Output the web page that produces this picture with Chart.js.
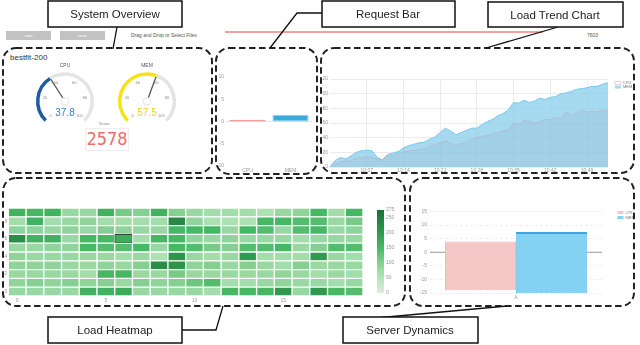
<!DOCTYPE html>
<html>
<head>
<meta charset="utf-8">
<script src="https://cdn.jsdelivr.net/npm/chart.js@4.4.1/dist/chart.umd.min.js"></script>
<style>
  body { margin: 0; background: #fff; font-family: "Liberation Sans", Arial, sans-serif; }
  #page { position: relative; width: 640px; height: 345px; overflow: hidden; }
  canvas { position: absolute; }
  .txt { position: absolute; white-space: nowrap; }
  .btn { position: absolute; top: 31px; width: 45px; height: 9px; background: #c2c2c2; color: #fff; font-size: 4px; line-height: 9px; text-align: center; }
  svg { position: absolute; left: 0; top: 0; pointer-events: none; }
</style>
</head>
<body>
<div id="page">
  <div class="btn" style="left:6px">start</div>
  <div class="btn" style="left:60px">reset</div>
  <div class="txt" style="left:131px;top:32px;font-size:5px;color:#555">Drag and Drop or Select Files</div>
  <div class="txt" style="left:587px;top:32px;font-size:5px;color:#555">7603</div>
  <div class="txt" style="left:10px;top:53px;font-size:8px;color:#333">bestfit-200</div>
  <div class="txt" style="left:99px;top:121px;font-size:4px;color:#888">Score</div>
  <div class="txt" id="score" style="left:85px;top:128px;width:42px;height:21px;border:1px solid #eee;text-align:center;line-height:21px;font-family:'DejaVu Sans Mono',monospace;font-size:17px;color:#f26a6a"></div>

  <canvas id="cpuGauge" width="90" height="70" style="left:20px;top:56px"></canvas>
  <canvas id="memGauge" width="90" height="70" style="left:102px;top:56px"></canvas>
  <canvas id="reqChart" width="100" height="104" style="left:217px;top:70px"></canvas>
  <canvas id="trendChart" width="314" height="101" style="left:322px;top:72px"></canvas>
  <canvas id="heatChart" width="366" height="106" style="left:0px;top:200px"></canvas>
  <canvas id="barScale" width="30" height="95" style="left:372px;top:205px"></canvas>
  <canvas id="srvChart" width="222" height="97" style="left:412px;top:204px"></canvas>

  <svg width="640" height="345">
    <line x1="225" y1="32" x2="543" y2="32" stroke="#e8453c" stroke-width="1"/>
    <g fill="none" stroke="#222" stroke-width="2" stroke-dasharray="6.5 3.5">
      <rect x="3" y="48" width="209" height="125" rx="13"/>
      <rect x="216" y="48" width="101" height="126" rx="13"/>
      <rect x="321" y="48" width="313" height="125" rx="13"/>
      <rect x="3" y="178" width="402" height="128" rx="13"/>
      <rect x="410" y="178" width="224" height="128" rx="13"/>
    </g>
    <g fill="none" stroke="#111" stroke-width="1.3">
      <polyline points="117,27 113,49"/>
      <polyline points="322,13 297,13 270,48"/>
      <polyline points="558,27 486,48"/>
      <polyline points="182,330 216,330 223,306"/>
      <polyline points="376,318 507,306"/>
    </g>
    <g fill="#fff" stroke="#111" stroke-width="1.5">
      <rect x="48" y="1" width="134" height="26"/>
      <rect x="322" y="1" width="133" height="26"/>
      <rect x="488" y="2" width="135" height="25"/>
      <rect x="48" y="317" width="134" height="26"/>
      <rect x="343" y="317" width="135" height="26"/>
    </g>
    <g font-family="Liberation Sans, Arial, sans-serif" font-size="11.5" fill="#222" text-anchor="middle">
      <text x="115" y="18">System Overview</text>
      <text x="388" y="18">Request Bar</text>
      <text x="555" y="18.5">Load Trend Chart</text>
      <text x="115" y="334">Load Heatmap</text>
      <text x="410" y="334">Server Dynamics</text>
    </g>
  </svg>
</div>

<script>
// Gauges
const cpuValue = 37.8;
const memValue = 57.5;
const gaugeTicks = ['0', '20', '40', '60', '80', '100'];
const scoreValue = '2578';

// Request bar
const reqLabels = ['CPU', 'MEM'];
const reqValues = [0.4, 1.5];

// Load trend
const trendLabels = ['10:00','10:01','10:02','10:03','10:04','10:05','10:06','10:07','10:08','10:09',
  '10:10','10:11','10:12','10:13','10:14','10:15','10:16','10:17','10:18','10:19',
  '10:20','10:21','10:22','10:23','10:24','10:25','10:26','10:27','10:28','10:29',
  '10:30','10:31','10:32','10:33','10:34','10:35','10:36','10:37','10:38','10:39',
  '10:40','10:41','10:42','10:43','10:44','10:45','10:46','10:47','10:48','10:49',
  '10:50','10:51','10:52','10:53'];
const trendMem = [0, 9, 13, 11, 15, 20, 22, 23, 22, 13, 10, 17, 19, 21, 26, 29, 31, 33, 34, 38,
  41, 47, 53, 49, 44, 47, 50, 53, 53, 58, 62, 65, 70, 73, 78, 88, 87, 91, 88, 90,
  94, 92, 95, 96, 100, 101, 103, 106, 107, 108, 110, 110, 113, 115];
const trendCpu = [0, 4, 7, 8, 9, 12, 13, 14, 13, 11, 9, 15, 16, 18, 21, 22, 23, 24, 25, 28,
  30, 33, 36, 33, 30, 32, 34, 38, 40, 42, 43, 45, 47, 49, 51, 60, 58, 64, 62, 60,
  62, 65, 64, 68, 66, 75, 70, 74, 78, 74, 77, 75, 78, 77];

// Heatmap (rows listed top to bottom)
const heatCols = ['0','1','2','3','4','5','6','7','8','9','10','11','12','13','14','15','16','17','18','19'];
const heatRowTicks = [0, 2, 4, 6, 8];
const heatRows = [
  [160,150,160,80,80,160,110,100,160,100,80,70,70,70,60,80,90,150,70,150],
  [70,160,70,80,90,70,70,70,70,230,90,60,60,60,150,150,140,140,80,110],
  [90,90,80,90,80,100,90,80,80,150,150,150,80,150,140,80,140,150,80,90],
  [220,160,160,80,150,150,170,70,150,150,90,80,90,80,80,80,70,80,80,80],
  [80,80,90,90,150,140,140,150,80,150,140,110,100,140,140,150,80,100,140,140],
  [90,80,80,80,80,80,70,80,60,210,80,70,80,200,70,70,70,200,80,70],
  [90,90,90,80,80,90,80,100,220,210,90,100,80,100,80,70,100,80,80,80],
  [80,80,80,80,70,150,150,80,80,110,80,80,80,80,80,90,80,70,80,70],
  [90,100,90,100,90,100,80,100,90,100,120,140,70,70,80,90,80,80,70,80],
  [80,80,80,80,160,160,170,80,80,80,80,70,150,150,150,200,80,200,150,140]
];
const heatMax = 275;
const heatStops = [[0,[226,234,226]],[60,[172,225,180]],[100,[134,207,146]],[150,[70,184,100]],[200,[48,154,78]],[275,[30,108,55]]];

// Server dynamics
const srvLabels = ['A'];
const srvCpu = [[-14, 4]];
const srvMem = [[-15, 7.5]];

Chart.defaults.font.family = '"Liberation Sans", Arial, sans-serif';
Chart.defaults.font.size = 5;
Chart.defaults.color = '#999';
Chart.defaults.animation = false;

function heatColor(v) {
  for (let i = 1; i < heatStops.length; i++) {
    if (v <= heatStops[i][0]) {
      const a = heatStops[i - 1], b = heatStops[i];
      const t = (v - a[0]) / (b[0] - a[0]);
      const c = a[1].map((x, k) => Math.round(x + (b[1][k] - x) * t));
      return 'rgb(' + c.join(',') + ')';
    }
  }
  return 'rgb(' + heatStops[heatStops.length - 1][1].join(',') + ')';
}

document.getElementById('score').textContent = scoreValue;

// gauge needle, ticks and value
const gaugePlugin = {
  id: 'gauge',
  afterDatasetsDraw(chart, args, opts) {
    const arcs = chart.getDatasetMeta(0).data;
    const arc = arcs[0];
    const ctx = chart.ctx;
    const cx = arc.x, cy = arc.y, r = arc.outerRadius;
    const start = arc.startAngle, total = arcs[1].endAngle - start;
    ctx.save();
    ctx.textAlign = 'center';
    ctx.textBaseline = 'middle';
    ctx.font = '4px "Liberation Sans"';
    ctx.fillStyle = '#888';
    gaugeTicks.forEach((t, i) => {
      const a = start + total * i / (gaugeTicks.length - 1);
      ctx.fillText(t, cx + Math.cos(a) * r * 0.7, cy + Math.sin(a) * r * 0.7);
    });
    ctx.fillStyle = '#555';
    ctx.font = '5px "Liberation Sans"';
    ctx.fillText(opts.title, cx, cy - r - 7);
    // needle
    const a = arc.endAngle;
    ctx.strokeStyle = '#555';
    ctx.lineWidth = 1.3;
    ctx.beginPath();
    ctx.moveTo(cx, cy);
    ctx.lineTo(cx + Math.cos(a) * (r - 3), cy + Math.sin(a) * (r - 3));
    ctx.stroke();
    ctx.beginPath();
    ctx.arc(cx, cy, 3.8, 0, Math.PI * 2);
    ctx.fillStyle = '#fff';
    ctx.fill();
    ctx.strokeStyle = '#ddd';
    ctx.lineWidth = 0.8;
    ctx.stroke();
    ctx.fillStyle = opts.textColor;
    ctx.font = '10px "Liberation Sans"';
    ctx.fillText(opts.value.toFixed(1), cx, cy + 12.5);
    ctx.restore();
  }
};

function makeGauge(id, value, title, color, textColor) {
  return new Chart(document.getElementById(id), {
    type: 'doughnut',
    data: { datasets: [{ data: [value, 100 - value], backgroundColor: [color, '#e4e4e4'], borderWidth: 0 }] },
    options: {
      responsive: false, events: [],
      rotation: -135, circumference: 270, cutout: '88%',
      layout: { padding: { left: 16, right: 16, top: 16, bottom: 4 } },
      plugins: { legend: { display: false }, tooltip: { enabled: false }, gauge: { title: title, value: value, textColor: textColor } }
    },
    plugins: [gaugePlugin]
  });
}
makeGauge('cpuGauge', cpuValue, 'CPU', '#1f5c9e', '#3f7fc0');
makeGauge('memGauge', memValue, 'MEM', '#f6e312', '#efd425');

// zero line drawn from the y scale
const zeroLine = {
  id: 'zeroLine',
  beforeDatasetsDraw(chart, args, opts) {
    const y = chart.scales.y.getPixelForValue(0), a = chart.chartArea, ctx = chart.ctx;
    ctx.save();
    ctx.strokeStyle = opts.color;
    ctx.lineWidth = 1;
    ctx.beginPath();
    ctx.moveTo(a.left, y);
    ctx.lineTo(a.right, y);
    ctx.stroke();
    ctx.restore();
  }
};

// small legend at the right of the plot
const sideLegend = {
  id: 'sideLegend',
  afterDraw(chart, args, opts) {
    const ctx = chart.ctx, a = chart.chartArea;
    ctx.save();
    ctx.font = opts.size + 'px "Liberation Sans"';
    ctx.textBaseline = 'middle';
    chart.data.datasets.forEach((ds, i) => {
      const x = a.right + opts.dx, y = a.top + opts.dy + i * opts.gap;
      if (ds.legendLine) {
        ctx.strokeStyle = ds.borderColor;
        ctx.lineWidth = 0.8;
        ctx.strokeRect(x, y - 1.5, 6, 3);
      } else {
        ctx.fillStyle = ds.legendColor || ds.backgroundColor;
        ctx.fillRect(x, y - 1.5, 6, 3);
      }
      ctx.fillStyle = '#777';
      ctx.fillText(ds.label, x + 8, y);
    });
    ctx.restore();
  }
};

const noGrid = { display: false, drawTicks: false };

// Request bar
new Chart(document.getElementById('reqChart'), {
  type: 'bar',
  data: {
    labels: reqLabels,
    datasets: [{ data: reqValues, backgroundColor: ['#f6b4b4', '#3fa9dc'], borderColor: ['#f29c9c', '#8fd0ef'],
      borderWidth: 1, borderSkipped: false, barPercentage: 0.84, categoryPercentage: 1 }]
  },
  options: {
    responsive: false, events: [],
    layout: { padding: { top: 7, right: 5 } },
    plugins: { legend: { display: false }, tooltip: { enabled: false }, zeroLine: { color: '#e6e6e6' } },
    scales: {
      x: { grid: noGrid, border: { display: false }, ticks: { padding: 2 }, afterFit(s) { s.height = 8; } },
      y: { min: -10, max: 10, ticks: { stepSize: 5, padding: 2 }, grid: noGrid, border: { display: false }, afterFit(s) { s.width = 9; } }
    }
  },
  plugins: [zeroLine]
});

// Load trend
new Chart(document.getElementById('trendChart'), {
  type: 'line',
  data: {
    labels: trendLabels,
    datasets: [
      { label: 'CPU', data: trendCpu, fill: 'origin', backgroundColor: 'rgba(140,155,185,0.16)', borderColor: 'rgba(200,165,185,0.6)',
        borderWidth: 0.8, pointRadius: 0, legendLine: true },
      { label: 'MEM', data: trendMem, fill: 'origin', backgroundColor: 'rgba(135,206,235,0.75)', borderColor: '#79c9e8',
        borderWidth: 1, pointRadius: 0 }
    ]
  },
  options: {
    responsive: false, events: [],
    layout: { padding: { top: 7, right: 28 } },
    plugins: { legend: { display: false }, tooltip: { enabled: false }, sideLegend: { dx: 7, dy: 4, gap: 4, size: 4 } },
    scales: {
      x: {
        ticks: { autoSkip: false, maxRotation: 0, padding: 1, callback(v, i) { return (i % 7 === 0 && i > 0) ? trendLabels[i] : ''; } },
        grid: { color(c) { return (c.index % 7 === 0 && c.index > 0) ? '#ececec' : 'rgba(0,0,0,0)'; }, drawTicks: false },
        border: { display: false },
        afterFit(s) { s.height = 6; }
      },
      y: { min: 0, max: 120, ticks: { stepSize: 20, padding: 2 }, grid: { color: '#ececec', drawTicks: false }, border: { display: false },
        afterFit(s) { s.width = 8; } }
    }
  },
  plugins: [sideLegend]
});

// Heatmap as stacked cells
const heatSets = [];
for (let r = 0; r < heatRows.length; r++) {
  const row = heatRows[heatRows.length - 1 - r];
  heatSets.push({
    data: row.map(() => 1),
    backgroundColor: row.map(heatColor),
    borderColor: row.map((v, c) => (heatRows.length - 1 - r === 3 && c === 6) ? '#2e4a36' : '#ffffff'),
    borderWidth: 1, borderSkipped: false, barPercentage: 1, categoryPercentage: 1
  });
}
new Chart(document.getElementById('heatChart'), {
  type: 'bar',
  data: { labels: heatCols, datasets: heatSets },
  options: {
    responsive: false, events: [],
    layout: { padding: { top: 8, right: 3 } },
    plugins: { legend: { display: false }, tooltip: { enabled: false } },
    scales: {
      x: { stacked: true, grid: noGrid, border: { display: false },
        ticks: { autoSkip: false, maxRotation: 0, padding: 2, callback(v, i) { return i % 5 === 0 ? heatCols[i] : ''; } },
        afterFit(s) { s.height = 10; } },
      y: { stacked: true, min: 0, max: heatRows.length, grid: noGrid, border: { display: false },
        afterBuildTicks(s) { s.ticks = heatRowTicks.map(v => ({ value: v + 0.5 })); },
        ticks: { padding: 1, callback(v) { return String(Math.floor(v)); } },
        afterFit(s) { s.width = 8.3; } }
    }
  }
});

// colour scale of the heatmap
const barGradient = {
  id: 'barGradient',
  beforeDatasetsDraw(chart) {
    const y = chart.scales.y, a = chart.chartArea, ctx = chart.ctx;
    const g = ctx.createLinearGradient(0, y.getPixelForValue(0), 0, y.getPixelForValue(heatMax));
    heatStops.forEach(s => g.addColorStop(s[0] / heatMax, 'rgb(' + s[1].join(',') + ')'));
    ctx.save();
    ctx.fillStyle = g;
    ctx.fillRect(a.left, a.top, a.width, a.height);
    ctx.restore();
  }
};
new Chart(document.getElementById('barScale'), {
  type: 'bar',
  data: { labels: [''], datasets: [{ data: [] }] },
  options: {
    responsive: false, events: [],
    layout: { padding: { left: 5, top: 5, bottom: 7 } },
    plugins: { legend: { display: false }, tooltip: { enabled: false } },
    scales: {
      x: { display: false },
      y: { position: 'right', min: 0, max: heatMax, ticks: { stepSize: 50, padding: 2 }, grid: noGrid, border: { display: false },
        afterFit(s) { s.width = 18; } }
    }
  },
  plugins: [barGradient]
});

// Server dynamics
new Chart(document.getElementById('srvChart'), {
  type: 'bar',
  data: {
    labels: srvLabels,
    datasets: [
      { label: 'CPU', data: srvCpu, backgroundColor: '#f4c6c6', borderColor: '#f1b6b6', borderWidth: 1, borderSkipped: false },
      { label: 'MEM', data: srvMem, backgroundColor: '#84d2f1', borderColor: '#3ea6dc', borderWidth: { top: 2, left: 0.6, right: 0.6, bottom: 0.6 },
        borderSkipped: false }
    ]
  },
  options: {
    responsive: false, events: [],
    datasets: { bar: { barPercentage: 1, categoryPercentage: 0.826 } },
    layout: { padding: { top: 7.5, right: 32 } },
    plugins: { legend: { display: false }, tooltip: { enabled: false }, zeroLine: { color: '#9a9a9a' }, sideLegend: { dx: 15.5, dy: 1, gap: 5, size: 4 } },
    scales: {
      x: { grid: noGrid, border: { display: false }, ticks: { padding: 2 }, afterFit(s) { s.height = 8; } },
      y: { min: -15, max: 15, ticks: { stepSize: 5, padding: 3 }, grid: { color: '#efefef', drawTicks: false }, border: { display: false, dash: [3, 2] },
        afterFit(s) { s.width = 18; } }
    }
  },
  plugins: [zeroLine, sideLegend]
});
</script>
</body>
</html>
